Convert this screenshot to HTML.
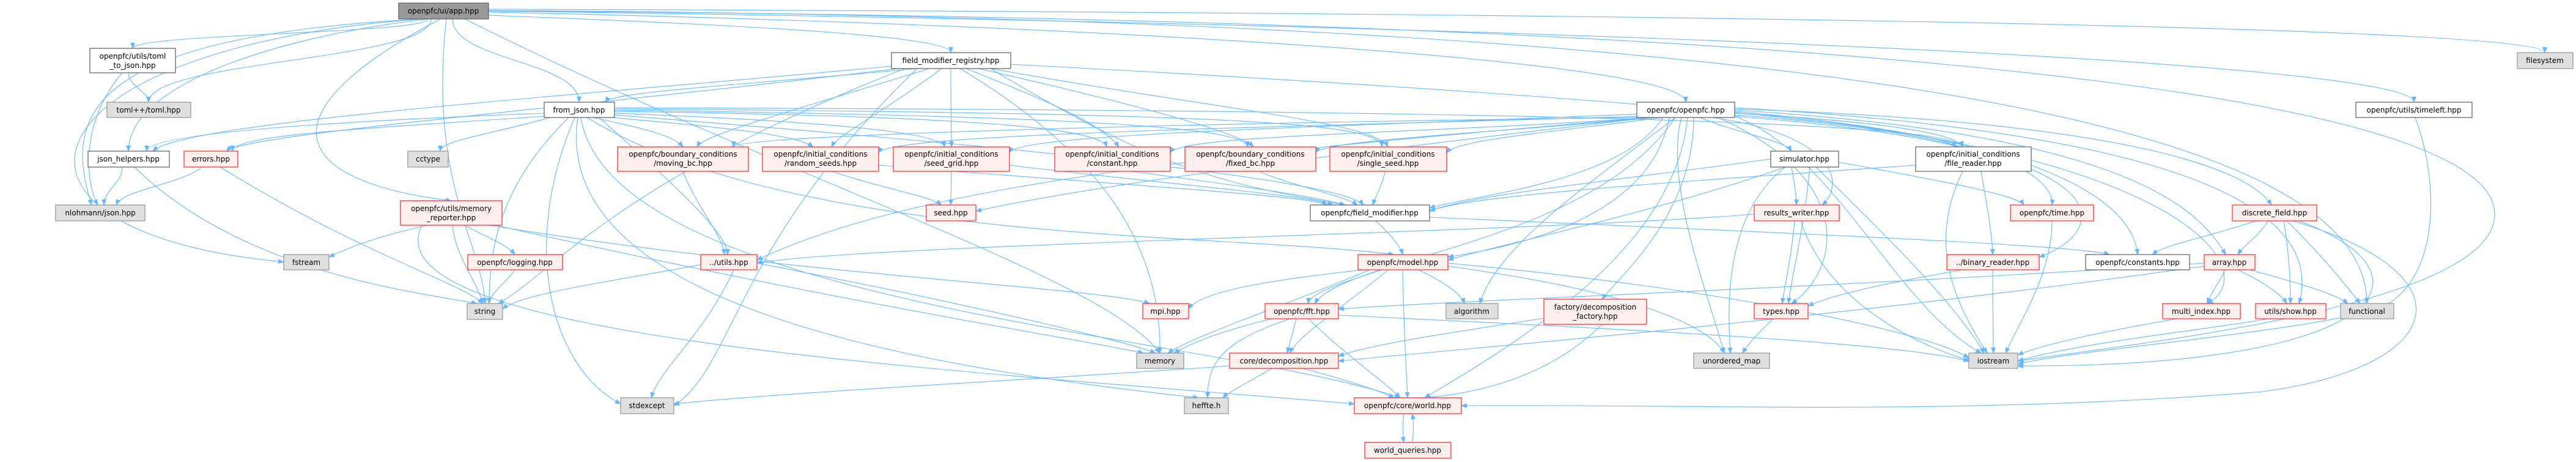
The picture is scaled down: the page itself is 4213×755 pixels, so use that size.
<!DOCTYPE html>
<html><head><meta charset="utf-8"><style>
html,body{margin:0;padding:0;background:#fff}
svg{display:block}
.e path{fill:none;stroke:#63b8ff;stroke-width:1.1}
text{font-family:"DejaVu Sans","Liberation Sans",sans-serif;font-size:12px;fill:#000;text-anchor:middle}
.w{fill:#fff;stroke:#666}
.r{fill:#fff0f0;stroke:#f33}
.l{fill:#e0e0e0;stroke:#999}
.g{fill:#999;stroke:#666}
rect{stroke-width:1.3}
</style></head><body>
<svg width="4213" height="755" viewBox="0 0 4213 755" xmlns="http://www.w3.org/2000/svg">
<defs><marker id="a" markerWidth="10" markerHeight="8" refX="9" refY="4" orient="auto" markerUnits="userSpaceOnUse"><path d="M0 0L10 4L0 8z" fill="#63b8ff"/></marker></defs>
<g class="e" marker-end="url(#a)">
<path marker-end="url(#a)" d="M700 31C700 55 217 55 217 79"/>
<path marker-end="url(#a)" d="M705 31C705 99 243 99 243 167"/>
<path marker-end="url(#a)" d="M700 31C450 60 210 139 210 247"/>
<path marker-end="url(#a)" d="M690 31C150 60 100 183 150 335"/>
<path marker-end="url(#a)" d="M690 31C20 80 -60 380 464 428"/>
<path marker-end="url(#a)" d="M740 31C740 99 947 99 947 167"/>
<path marker-end="url(#a)" d="M799 25C1200 40 1555 58 1555 86"/>
<path marker-end="url(#a)" d="M799 20C1800 40 2757 99 2757 167"/>
<path marker-end="url(#a)" d="M799 18C2500 40 3948 99 3948 167"/>
<path marker-end="url(#a)" d="M799 15C2500 20 4162 40 4162 86"/>
<path marker-end="url(#a)" d="M720 31C400 200 500 300 738 328"/>
<path marker-end="url(#a)" d="M799 18C3000 30 4080 150 4080 350C4080 500 3500 560 3300 590"/>
<path marker-end="url(#a)" d="M799 17C3000 30 3871 200 3871 496"/>
<path marker-end="url(#a)" d="M730 31C700 300 790 400 793 496"/>
<path marker-end="url(#a)" d="M760 31C1300 300 1800 450 1897 577"/>
<path d="M210 119C210 140 243 150 243 167"/>
<path d="M200 119C130 200 140 300 160 335"/>
<path d="M200 273C200 300 170 310 170 335"/>
<path d="M220 273C400 450 700 480 780 496"/>
<path d="M330 273C300 300 200 310 190 335"/>
<path d="M360 273C600 420 750 460 790 496"/>
<path d="M900 192C800 220 720 230 720 247"/>
<path d="M890 190C600 210 380 220 380 247"/>
<path d="M890 185C500 200 240 220 240 247"/>
<path d="M970 192C1050 210 1100 220 1117 240"/>
<path d="M1000 192C1200 210 1300 220 1330 240"/>
<path d="M1005 185C1400 200 1540 220 1545 240"/>
<path d="M1005 182C1600 190 1800 210 1810 240"/>
<path d="M1005 180C1800 190 2040 210 2040 240"/>
<path d="M1005 178C2000 185 2260 200 2260 240"/>
<path d="M1005 176C2500 180 3200 200 3210 240"/>
<path d="M1005 188C1800 250 2200 300 2230 335"/>
<path d="M930 192C820 300 800 400 800 496"/>
<path d="M940 192C850 400 900 600 1015 660"/>
<path d="M960 192C1300 400 2000 380 2280 416"/>
<path d="M980 192C1100 300 1190 380 1190 416"/>
<path d="M950 192C1000 500 2000 550 2290 650"/>
<path d="M945 192C900 500 1500 600 1960 650"/>
<path d="M1500 112C1200 140 1000 150 990 167"/>
<path d="M1470 112C900 180 400 220 370 247"/>
<path d="M1460 108C900 160 300 200 250 247"/>
<path d="M1520 112C1300 180 1150 220 1140 240"/>
<path d="M1540 112C1450 180 1370 220 1360 240"/>
<path d="M1555 112C1555 180 1556 200 1556 240"/>
<path d="M1580 112C1700 160 1800 200 1830 240"/>
<path d="M1600 112C1900 180 2030 220 2050 240"/>
<path d="M1620 112C2000 180 2250 200 2270 240"/>
<path d="M1653 105C2500 150 3150 200 3200 240"/>
<path d="M1620 112C1900 280 2000 300 2200 335"/>
<path d="M1570 112C1800 250 1900 400 1897 577"/>
<path d="M1480 112C1000 300 900 450 815 496"/>
<path d="M1500 112C1200 400 1200 600 1102 663"/>
<path d="M700 368C600 390 560 410 538 420"/>
<path d="M760 368C800 390 830 400 842 416"/>
<path d="M740 368C745 420 780 460 790 496"/>
<path d="M800 368C1300 450 1800 470 1880 496"/>
<path d="M810 368C1400 500 1800 560 1870 577"/>
<path d="M690 368C600 550 1500 600 2215 660"/>
<path d="M842 441C830 460 800 480 800 496"/>
<path d="M1117 280C1140 340 1180 380 1185 416"/>
<path d="M1360 280C1450 310 1520 320 1540 335"/>
<path d="M1437 270C1800 300 2150 320 2170 335"/>
<path d="M1556 280C1556 300 1555 320 1555 335"/>
<path d="M1651 270C1900 300 2150 320 2180 335"/>
<path d="M1850 280C2000 300 2150 320 2200 335"/>
<path d="M2060 280C2100 300 2200 320 2220 335"/>
<path d="M2265 280C2262 300 2250 320 2245 335"/>
<path d="M1160 430C1000 460 850 480 822 505"/>
<path d="M1200 441C1150 550 1080 600 1065 650"/>
<path d="M1238 430C1600 500 1850 560 1890 577"/>
<path d="M2250 361C2270 380 2290 400 2294 416"/>
<path d="M2338 355C2900 380 3400 400 3450 416"/>
<path d="M2260 441C2200 460 2140 480 2140 496"/>
<path d="M2320 441C2360 460 2390 480 2395 496"/>
<path d="M2294 441C2296 550 2300 600 2302 650"/>
<path d="M2240 441C2100 500 1950 550 1910 577"/>
<path d="M2270 441C2200 500 2120 550 2110 577"/>
<path d="M2230 441C2050 460 1960 480 1944 505"/>
<path d="M2368 430C2800 470 3150 540 3220 585"/>
<path d="M2368 435C2700 480 2800 540 2820 577"/>
<path d="M2120 521C2115 540 2110 560 2105 577"/>
<path d="M2140 521C2200 580 2260 620 2290 650"/>
<path d="M2080 521C2000 540 1950 560 1920 577"/>
<path d="M2110 521C1990 560 1975 600 1975 650"/>
<path d="M2189 515C2700 540 3100 560 3220 590"/>
<path d="M2080 602C2050 620 2010 640 2000 650"/>
<path d="M2130 602C2200 620 2260 640 2280 650"/>
<path d="M2011 598C1700 620 1300 640 1102 660"/>
<path d="M2620 530C2550 600 2450 640 2330 650"/>
<path d="M2525 520C2400 540 2250 560 2189 582"/>
<path d="M2296 676C2294 695 2294 710 2296 723"/>
<path d="M2310 723C2312 705 2312 690 2310 676"/>
<path d="M2690 192C2000 200 1200 220 1200 240"/>
<path d="M2690 190C2000 210 1450 220 1437 250"/>
<path d="M2690 186C2100 210 1660 220 1651 250"/>
<path d="M2700 192C2300 220 1930 220 1914 250"/>
<path d="M2710 192C2400 220 2160 230 2152 250"/>
<path d="M2720 192C2500 220 2380 230 2366 250"/>
<path d="M2837 185C3100 200 3200 220 3210 240"/>
<path d="M2720 192C2650 300 2400 320 2338 340"/>
<path d="M2730 192C2700 350 2500 400 2368 420"/>
<path d="M2740 192C2600 400 2200 420 2150 496"/>
<path d="M2770 192C2770 350 2650 450 2620 489"/>
<path d="M2760 192C2740 400 2500 550 2330 650"/>
<path d="M2780 192C2850 220 2920 230 2930 247"/>
<path d="M2800 192C3000 220 3020 300 2980 335"/>
<path d="M2837 188C3300 220 3360 300 3356 335"/>
<path d="M2837 190C3500 240 3450 380 3335 420"/>
<path d="M2837 182C3400 230 3490 350 3496 416"/>
<path d="M2810 192C3050 300 3000 450 2930 496"/>
<path d="M2837 180C3500 220 3600 350 3640 416"/>
<path d="M2837 178C3500 200 3680 280 3715 335"/>
<path d="M2837 176C3600 220 3800 350 3760 496"/>
<path d="M2837 184C3600 250 3700 450 3610 496"/>
<path d="M2700 192C2000 250 1500 300 1238 425"/>
<path d="M2837 190C3000 250 3100 500 3240 577"/>
<path d="M2750 192C2720 300 2800 500 2820 577"/>
<path d="M2700 192C2200 250 1800 300 1596 345"/>
<path d="M2740 192C2600 300 2450 400 2420 496"/>
<path d="M2930 273C2935 300 2938 320 2938 335"/>
<path d="M2960 273C2950 380 2930 450 2925 496"/>
<path d="M3007 265C3200 300 3300 320 3310 335"/>
<path d="M2896 260C2600 300 2400 320 2338 345"/>
<path d="M2920 273C2700 350 2450 400 2368 425"/>
<path d="M2970 273C3100 400 3200 500 3245 577"/>
<path d="M2920 273C2820 350 2825 500 2830 577"/>
<path d="M3240 280C3250 340 3258 380 3259 416"/>
<path d="M3210 280C3150 400 3200 500 3250 577"/>
<path d="M3133 270C2700 300 2400 320 2338 345"/>
<path d="M2935 361C2930 420 2918 470 2915 496"/>
<path d="M2945 361C2990 500 3150 570 3225 590"/>
<path d="M2869 350C2500 380 1400 400 1238 430"/>
<path d="M3356 361C3356 450 3300 530 3280 577"/>
<path d="M3210 441C3100 460 3000 480 2957 500"/>
<path d="M3259 441C3259 500 3260 540 3260 577"/>
<path d="M2900 521C2880 540 2860 560 2850 577"/>
<path d="M3690 361C3600 390 3540 400 3520 416"/>
<path d="M3710 361C3690 390 3670 400 3660 416"/>
<path d="M3735 361C3745 420 3746 470 3746 496"/>
<path d="M3740 361C3800 420 3840 470 3860 496"/>
<path d="M3760 361C4000 450 3900 600 3300 598"/>
<path d="M3750 361C4050 450 4000 600 3700 640C3200 680 2800 660 2390 663"/>
<path d="M3640 441C3630 460 3615 480 3610 496"/>
<path d="M3660 441C3700 460 3730 480 3740 496"/>
<path d="M3680 441C3750 460 3820 480 3840 496"/>
<path d="M3605 430C3000 470 2400 490 2189 505"/>
<path d="M3605 435C3000 520 2500 560 2189 590"/>
<path d="M3560 521C3450 540 3350 560 3300 580"/>
<path d="M3710 521C3600 540 3400 560 3300 590"/>
<path d="M3950 192C3990 300 3990 450 3900 500C3800 540 3400 570 3300 595"/>
</g>
<g>
<rect class="g" x="652" y="5" width="147" height="26"/><text x="725" y="22">openpfc/ui/app.hpp</text>
<rect class="w" x="147" y="79" width="140" height="40"/><text x="217" y="96">openpfc/utils/toml</text><text x="217" y="111">_to_json.hpp</text>
<rect class="l" x="175" y="167" width="137" height="25"/><text x="243" y="184">toml++/toml.hpp</text>
<rect class="w" x="144" y="247" width="133" height="26"/><text x="210" y="264">json_helpers.hpp</text>
<rect class="r" x="301" y="247" width="88" height="26"/><text x="345" y="264">errors.hpp</text>
<rect class="l" x="91" y="335" width="146" height="26"/><text x="164" y="352">nlohmann/json.hpp</text>
<rect class="l" x="667" y="247" width="66" height="26"/><text x="700" y="264">cctype</text>
<rect class="r" x="655" y="328" width="166" height="40"/><text x="738" y="345">openpfc/utils/memory</text><text x="738" y="360">_reporter.hpp</text>
<rect class="l" x="464" y="416" width="74" height="25"/><text x="501" y="433">fstream</text>
<rect class="w" x="890" y="167" width="115" height="25"/><text x="947" y="184">from_json.hpp</text>
<rect class="r" x="1010" y="240" width="214" height="40"/><text x="1117" y="256">openpfc/boundary_conditions</text><text x="1117" y="271">/moving_bc.hpp</text>
<rect class="r" x="1247" y="240" width="190" height="40"/><text x="1342" y="256">openpfc/initial_conditions</text><text x="1342" y="271">/random_seeds.hpp</text>
<rect class="r" x="765" y="416" width="155" height="25"/><text x="842" y="433">openpfc/logging.hpp</text>
<rect class="l" x="764" y="496" width="58" height="26"/><text x="793" y="513">string</text>
<rect class="r" x="1146" y="416" width="92" height="25"/><text x="1192" y="433">../utils.hpp</text>
<rect class="l" x="1015" y="650" width="87" height="26"/><text x="1058" y="667">stdexcept</text>
<rect class="w" x="1458" y="86" width="195" height="26"/><text x="1555" y="103">field_modifier_registry.hpp</text>
<rect class="r" x="1461" y="240" width="190" height="40"/><text x="1556" y="256">openpfc/initial_conditions</text><text x="1556" y="271">/seed_grid.hpp</text>
<rect class="r" x="1725" y="240" width="189" height="40"/><text x="1819" y="256">openpfc/initial_conditions</text><text x="1819" y="271">/constant.hpp</text>
<rect class="r" x="1938" y="240" width="214" height="40"/><text x="2045" y="256">openpfc/boundary_conditions</text><text x="2045" y="271">/fixed_bc.hpp</text>
<rect class="r" x="1515" y="335" width="81" height="26"/><text x="1555" y="352">seed.hpp</text>
<rect class="r" x="1869" y="496" width="75" height="25"/><text x="1906" y="513">mpi.hpp</text>
<rect class="l" x="1859" y="577" width="77" height="25"/><text x="1897" y="594">memory</text>
<rect class="l" x="1937" y="650" width="72" height="26"/><text x="1973" y="667">heffte.h</text>
<rect class="r" x="2069" y="496" width="120" height="25"/><text x="2129" y="513">openpfc/fft.hpp</text>
<rect class="r" x="2175" y="240" width="191" height="40"/><text x="2270" y="256">openpfc/initial_conditions</text><text x="2270" y="271">/single_seed.hpp</text>
<rect class="w" x="2677" y="167" width="160" height="25"/><text x="2757" y="184">openpfc/openpfc.hpp</text>
<rect class="w" x="2143" y="335" width="195" height="26"/><text x="2240" y="352">openpfc/field_modifier.hpp</text>
<rect class="r" x="2221" y="416" width="147" height="25"/><text x="2294" y="433">openpfc/model.hpp</text>
<rect class="l" x="2365" y="496" width="85" height="25"/><text x="2407" y="513">algorithm</text>
<rect class="r" x="2525" y="489" width="168" height="41"/><text x="2609" y="506">factory/decomposition</text><text x="2609" y="521">_factory.hpp</text>
<rect class="r" x="2011" y="577" width="178" height="25"/><text x="2100" y="594">core/decomposition.hpp</text>
<rect class="l" x="2770" y="577" width="124" height="25"/><text x="2832" y="594">unordered_map</text>
<rect class="r" x="2215" y="650" width="175" height="26"/><text x="2302" y="667">openpfc/core/world.hpp</text>
<rect class="r" x="2232" y="723" width="141" height="26"/><text x="2302" y="740">world_queries.hpp</text>
<rect class="w" x="2896" y="247" width="111" height="26"/><text x="2951" y="264">simulator.hpp</text>
<rect class="w" x="3133" y="240" width="189" height="40"/><text x="3227" y="256">openpfc/initial_conditions</text><text x="3227" y="271">/file_reader.hpp</text>
<rect class="r" x="2869" y="335" width="139" height="26"/><text x="2938" y="352">results_writer.hpp</text>
<rect class="r" x="3288" y="335" width="136" height="26"/><text x="3356" y="352">openpfc/time.hpp</text>
<rect class="r" x="3184" y="416" width="151" height="25"/><text x="3259" y="433">../binary_reader.hpp</text>
<rect class="w" x="3411" y="416" width="170" height="25"/><text x="3496" y="433">openpfc/constants.hpp</text>
<rect class="r" x="2869" y="496" width="88" height="25"/><text x="2913" y="513">types.hpp</text>
<rect class="l" x="3220" y="577" width="80" height="25"/><text x="3260" y="594">iostream</text>
<rect class="l" x="4117" y="86" width="91" height="26"/><text x="4162" y="103">filesystem</text>
<rect class="w" x="3853" y="167" width="190" height="25"/><text x="3948" y="184">openpfc/utils/timeleft.hpp</text>
<rect class="r" x="3651" y="335" width="138" height="26"/><text x="3720" y="352">discrete_field.hpp</text>
<rect class="r" x="3605" y="416" width="83" height="25"/><text x="3646" y="433">array.hpp</text>
<rect class="r" x="3537" y="496" width="127" height="25"/><text x="3600" y="513">multi_index.hpp</text>
<rect class="r" x="3689" y="496" width="115" height="25"/><text x="3746" y="513">utils/show.hpp</text>
<rect class="l" x="3828" y="496" width="87" height="25"/><text x="3871" y="513">functional</text>
</g>
</svg>
</body></html>
